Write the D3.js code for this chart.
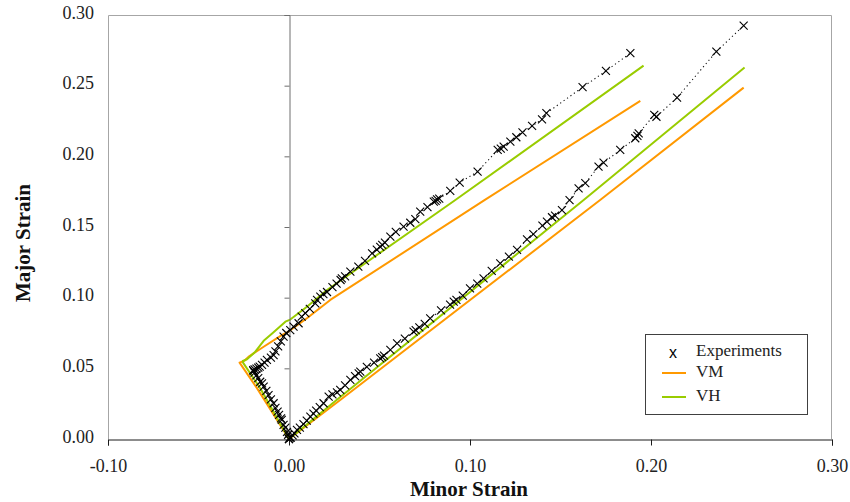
<!DOCTYPE html>
<html>
<head>
<meta charset="utf-8">
<script src="https://cdn.jsdelivr.net/npm/d3@7"></script>
<style>
  html, body { margin: 0; padding: 0; background: #fff; }
  svg { display: block; }
</style>
</head>
<body>
<svg id="chart" width="850" height="502"></svg>
<script>
// ---------------- DATA ----------------
const xTicks = [-0.10, 0.00, 0.10, 0.20, 0.30];
const yTicks = [0.00, 0.05, 0.10, 0.15, 0.20, 0.25, 0.30];
const legendLabels = ["Experiments", "VM", "VH"];
const xTitle = "Minor Strain";
const yTitle = "Major Strain";

// Experiments, strain path 1
const expPath1 = [
  [0,0],[0.0005,0.001],[-0.0005,0.003],[-0.0011,0.005],[-0.002,0.008],[-0.003,0.010],
  [-0.004,0.0135],[-0.0044,0.0146],[-0.0055,0.017],[-0.0063,0.0193],[-0.0075,0.022],
  [-0.0085,0.0253],[-0.010,0.028],[-0.0113,0.0311],[-0.0125,0.034],[-0.014,0.037],
  [-0.0149,0.0394],[-0.0159,0.0405],[-0.017,0.043],[-0.018,0.045],[-0.019,0.047],
  [-0.0196,0.0480],[-0.0198,0.0488],[-0.019,0.0492],[-0.018,0.0498],[-0.017,0.0505],
  [-0.0162,0.0512],[-0.0149,0.0524],[-0.0135,0.054],[-0.0122,0.056],[-0.010,0.0575],
  [-0.0085,0.0594],[-0.0075,0.062],[-0.006,0.0655],[-0.0045,0.069],[-0.003,0.0724],
  [-0.0015,0.075],[0.0007,0.0771],[0.0025,0.0795],[0.0053,0.0819],[0.007,0.0866],
  [0.009,0.089],[0.0115,0.092],[0.0145,0.0960],[0.0155,0.0984],[0.0173,0.1007],
  [0.019,0.1025],[0.021,0.104],[0.024,0.1075],[0.0263,0.1100],[0.0285,0.1125],
  [0.0292,0.1137],[0.031,0.1150],[0.0339,0.1184],[0.0383,0.1219],[0.042,0.1260],
  [0.0459,0.1314],[0.0485,0.1340],[0.0504,0.1360],[0.0515,0.1373],[0.0530,0.1390],
  [0.0560,0.1432],[0.0590,0.1465],[0.0633,0.1502],[0.0670,0.1530],[0.0698,0.1555],
  [0.0725,0.1609],[0.0765,0.1640],[0.0800,0.1680],[0.0810,0.1685],[0.0818,0.1696],
  [0.0830,0.1700],[0.0891,0.1755],[0.0943,0.1814],[0.1042,0.1892],[0.1153,0.2045],
  [0.1170,0.2055],[0.1186,0.2069],[0.1223,0.2104],[0.1256,0.2135],[0.1290,0.2170],
  [0.1343,0.2215],[0.1398,0.2262],[0.1422,0.2305],[0.1622,0.2489],[0.1751,0.2604],
  [0.1886,0.2730]
];

// Experiments, strain path 2
const expPath2 = [
  [0,0],[0.001,0.001],[0.002,0.0025],[0.003,0.004],[0.0044,0.0064],[0.006,0.008],
  [0.008,0.0105],[0.0098,0.013],[0.0118,0.0158],[0.0135,0.018],[0.015,0.020],
  [0.017,0.0225],[0.0191,0.0253],[0.0219,0.0300],[0.024,0.0315],[0.0265,0.033],
  [0.0283,0.0347],[0.031,0.0380],[0.0339,0.0418],[0.0365,0.0445],[0.0385,0.0465],
  [0.0394,0.0476],[0.043,0.0510],[0.047,0.0540],[0.0504,0.0571],[0.0515,0.0580],
  [0.0525,0.0590],[0.0560,0.0630],[0.0597,0.0677],[0.0640,0.0710],[0.0688,0.0759],
  [0.0700,0.0770],[0.0720,0.0790],[0.0750,0.0815],[0.0780,0.0854],[0.0840,0.0910],
  [0.0890,0.0950],[0.0910,0.0972],[0.0925,0.0985],[0.0960,0.1015],[0.1000,0.1066],
  [0.1040,0.1100],[0.1075,0.1137],[0.1120,0.1190],[0.1167,0.1243],[0.1215,0.1290],
  [0.1260,0.1338],[0.1315,0.1413],[0.1350,0.1450],[0.1400,0.1510],[0.1425,0.1538],
  [0.1453,0.1569],[0.1470,0.1580],[0.1508,0.1620],[0.1550,0.1690],[0.1600,0.1774],
  [0.1637,0.1810],[0.1710,0.1927],[0.1738,0.1955],[0.1830,0.2045],[0.1913,0.2128],
  [0.1925,0.2145],[0.1932,0.2163],[0.2018,0.2293],[0.2030,0.2280],[0.2144,0.2415],
  [0.2361,0.2741],[0.2512,0.2925]
];

// Simulations (VM = orange, VH = green)
const vmPath1 = [
  [0,0],[-0.0177,0.036],[-0.0273,0.0540],[-0.0245,0.0555],[-0.0220,0.0585],
  [-0.0140,0.0653],[-0.0040,0.0735],[0,0.0762],[0.0099,0.0854],[0.0228,0.0984],
  [0.1080,0.1690],[0.1941,0.2392]
];
const vhPath1 = [
  [0,0],[-0.0159,0.0359],[-0.0254,0.0540],[-0.0255,0.0552],[-0.0232,0.0564],
  [-0.0186,0.0618],[-0.0140,0.0695],[-0.0090,0.0750],[-0.0020,0.0830],
  [0.0007,0.0845],[0.0099,0.0936],[0.0210,0.1054],[0.0919,0.1691],[0.1959,0.2642]
];
const vmPath2 = [[0,0],[0.0283,0.0276],[0.1719,0.1691],[0.2512,0.2486]];
const vhPath2 = [[0,0],[0.0263,0.0276],[0.1628,0.1691],[0.2517,0.2628]];

const colorVM = "#FF9900";
const colorVH = "#99CC00";

// ---------------- CHART ----------------
const svg = d3.select("#chart");
const plotL = 108, plotR = 832, plotT = 15, plotB = 439;
const x = d3.scaleLinear().domain([-0.10, 0.30]).range([plotL, plotR]);
const y = d3.scaleLinear().domain([0, 0.30]).range([plotB, plotT]);
const loc = d3.formatLocale({decimal: ".", thousands: ",", grouping: [3], currency: ["", ""], minus: "-"});
const fmt = loc.format(".2f");
const serif = "'Liberation Serif', 'DejaVu Serif', serif";

// frame (left, top, right) in gray
svg.append("path")
  .attr("d", `M${plotL+0.5},${plotB} V${plotT+0.5} H${plotR-0.5} V${plotB}`)
  .attr("fill", "none").attr("stroke", "#a6a6a6").attr("stroke-width", 1);

// simulation lines
const line = d3.line().x(d => x(d[0])).y(d => y(d[1]));
const sims = [
  {data: vmPath1, color: colorVM}, {data: vmPath2, color: colorVM},
  {data: vhPath1, color: colorVH}, {data: vhPath2, color: colorVH}
];
svg.append("g").selectAll("path").data(sims).join("path")
  .attr("d", d => line(d.data))
  .attr("fill", "none").attr("stroke", d => d.color)
  .attr("stroke-width", 2).attr("stroke-linejoin", "round");

// x axis
const xAxis = svg.append("g").attr("transform", `translate(0,${plotB + 0.5})`)
  .call(d3.axisBottom(x).tickValues(xTicks).tickSize(6).tickPadding(14).tickFormat(fmt));
xAxis.select(".domain").attr("stroke", "#1a1a1a");
xAxis.selectAll(".tick line").attr("stroke", "#1a1a1a");
xAxis.selectAll("text").attr("font-family", serif).attr("font-size", 18).attr("fill", "#222");

// y axis at x = 0
const yAxis = svg.append("g").attr("transform", `translate(${Math.round(x(0)) + 0.5},0)`)
  .call(d3.axisLeft(y).tickValues(yTicks).tickSize(5).tickFormat(""));
yAxis.select(".domain").attr("stroke", "#6e6e6e");
yAxis.selectAll(".tick line").attr("stroke", "#6e6e6e");

// y tick labels at the left
svg.append("g").selectAll("text").data(yTicks).join("text")
  .attr("x", 94).attr("y", d => y(d) + 3.5)
  .attr("text-anchor", "end")
  .attr("font-family", serif).attr("font-size", 18).attr("fill", "#222")
  .text(d => fmt(d));

// experiment dotted connection lines
const exps = [expPath1, expPath2];
svg.append("g").selectAll("path").data(exps).join("path")
  .attr("d", d => line(d))
  .attr("fill", "none").attr("stroke", "#111").attr("stroke-width", 1.1)
  .attr("stroke-dasharray", "1.2,3");

// experiment markers (×)
const m = 4;
svg.append("g").selectAll("path").data(exps.flat()).join("path")
  .attr("d", d => {
    const cx = x(d[0]), cy = y(d[1]);
    return `M${cx-m},${cy-m}L${cx+m},${cy+m}M${cx-m},${cy+m}L${cx+m},${cy-m}`;
  })
  .attr("fill", "none").attr("stroke", "#000").attr("stroke-width", 1.1);

// axis titles
svg.append("text").attr("x", 469).attr("y", 496)
  .attr("text-anchor", "middle").attr("font-family", serif)
  .attr("font-weight", "bold").attr("font-size", 21).attr("fill", "#111")
  .text(xTitle);
svg.append("text")
  .attr("transform", `translate(30,${243}) rotate(-90)`)
  .attr("text-anchor", "middle").attr("font-family", serif)
  .attr("font-weight", "bold").attr("font-size", 21).attr("fill", "#111")
  .text(yTitle);

// legend
const lg = svg.append("g");
lg.append("rect").attr("x", 645.5).attr("y", 334.5).attr("width", 162).attr("height", 80)
  .attr("fill", "#fff").attr("stroke", "#404040").attr("stroke-width", 1);
lg.append("text").attr("x", 673).attr("y", 358).attr("text-anchor", "middle")
  .attr("font-family", "'Liberation Sans', Arial, sans-serif").attr("font-size", 16)
  .attr("fill", "#000").text("x");
const legendItems = [
  {label: legendLabels[0], y: 356, type: "marker"},
  {label: legendLabels[1], y: 377, type: "line", color: colorVM, ly: 373},
  {label: legendLabels[2], y: 401, type: "line", color: colorVH, ly: 397}
];
legendItems.forEach(it => {
  if (it.type === "line") {
    lg.append("line").attr("x1", 662).attr("x2", 686).attr("y1", it.ly).attr("y2", it.ly)
      .attr("stroke", it.color).attr("stroke-width", 2);
  }
  lg.append("text").attr("x", 696).attr("y", it.y)
    .attr("font-family", serif).attr("font-size", 17).attr("fill", "#222")
    .text(it.label);
});
</script>
</body>
</html>
